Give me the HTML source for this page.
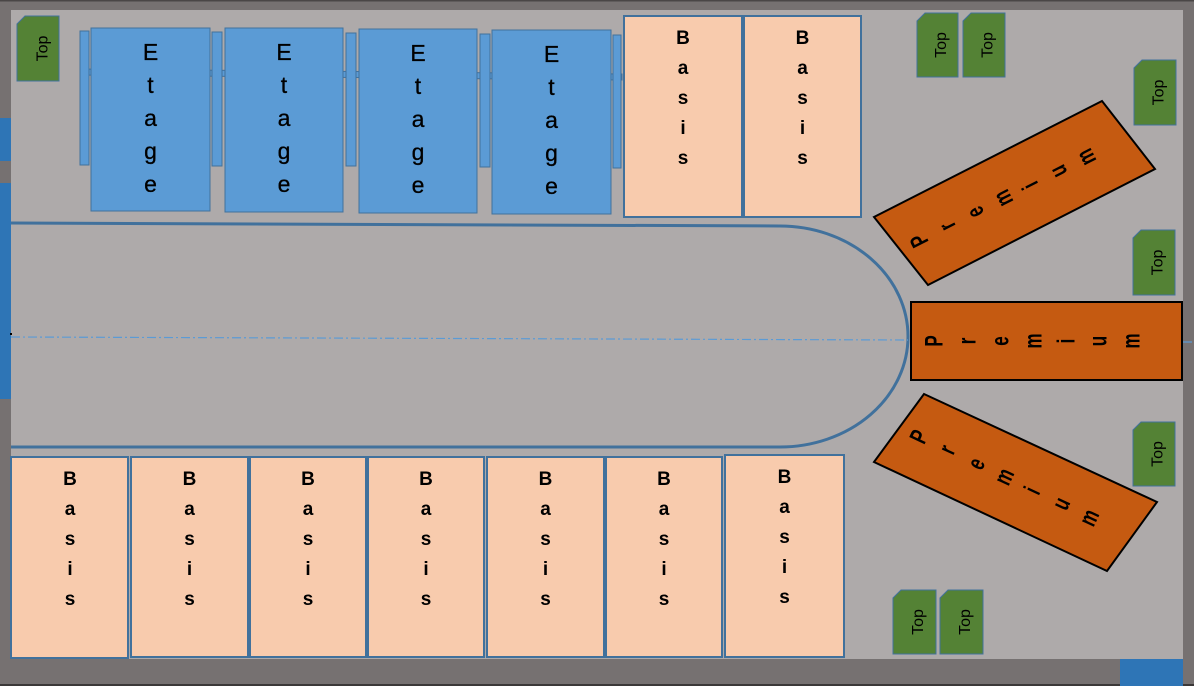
<!DOCTYPE html>
<html><head><meta charset="utf-8"><style>
html,body{margin:0;padding:0;background:#767171;}
svg{display:block;}
text{font-family:"Liberation Sans",sans-serif;}
</style></head><body>
<svg width="1194" height="686" viewBox="0 0 1194 686" xmlns="http://www.w3.org/2000/svg">
<rect x="0" y="0" width="1194" height="686" fill="#767171"/>
<rect x="0" y="0" width="1194" height="1.5" fill="#4a4646"/>
<rect x="0" y="684" width="1194" height="2" fill="#3b3838"/>
<rect x="11" y="10" width="1172" height="649" fill="#aeaaaa"/>
<rect x="0" y="118" width="11" height="43" fill="#2e75b6"/>
<rect x="0" y="183" width="11" height="216" fill="#2e75b6"/>
<rect x="1120" y="659" width="63" height="27" fill="#2e75b6"/>

<!-- road -->
<path d="M11,223 L780,226 A128,110.5 0 0 1 780,447 L11,447" fill="none" stroke="#41719c" stroke-width="3"/>
<line x1="11" y1="337" x2="908" y2="340" stroke="#5b9bd5" stroke-width="1.2" stroke-dasharray="9 3 2 3"/>
<line x1="1183" y1="342" x2="1194" y2="342" stroke="#5b9bd5" stroke-width="1.2" stroke-dasharray="9 3 2 3"/>
<rect x="10" y="333" width="2" height="2" fill="#000"/>

<!-- etage back bar -->
<polygon points="80,69 622,74 622,80 80,75" fill="#5b9bd5" stroke="#41719c" stroke-width="1"/>
<g fill="#5b9bd5" stroke="#41719c" stroke-width="1">
<rect x="80" y="31" width="9" height="134"/>
<rect x="212" y="32" width="10" height="134"/>
<rect x="346" y="33" width="10" height="133"/>
<rect x="480" y="34" width="10" height="133"/>
<rect x="613" y="35" width="8" height="133"/>
<rect x="91" y="28" width="119" height="183"/>
<rect x="225" y="28" width="118" height="184"/>
<rect x="359" y="29" width="118" height="184"/>
<rect x="492" y="30" width="119" height="184"/>
</g>
<g font-size="23" text-anchor="middle" fill="#000" stroke="#000" stroke-width="0.3">
<text x="150.5"><tspan x="150.5" y="60">E</tspan><tspan x="150.5" y="93">t</tspan><tspan x="150.5" y="126">a</tspan><tspan x="150.5" y="159">g</tspan><tspan x="150.5" y="192">e</tspan></text>
<text x="284"><tspan x="284" y="60">E</tspan><tspan x="284" y="93">t</tspan><tspan x="284" y="126">a</tspan><tspan x="284" y="159">g</tspan><tspan x="284" y="192">e</tspan></text>
<text x="418"><tspan x="418" y="61">E</tspan><tspan x="418" y="94">t</tspan><tspan x="418" y="127">a</tspan><tspan x="418" y="160">g</tspan><tspan x="418" y="193">e</tspan></text>
<text x="551.5"><tspan x="551.5" y="62">E</tspan><tspan x="551.5" y="95">t</tspan><tspan x="551.5" y="128">a</tspan><tspan x="551.5" y="161">g</tspan><tspan x="551.5" y="194">e</tspan></text>
</g>

<!-- basis boxes -->
<g fill="#f8cbad" stroke="#41719c" stroke-width="2">
<rect x="624" y="16" width="118" height="201"/>
<rect x="744" y="16" width="117" height="201"/>
<rect x="11" y="457" width="117" height="201"/>
<rect x="131" y="457" width="117" height="200"/>
<rect x="250" y="457" width="116" height="200"/>
<rect x="368" y="457" width="116" height="200"/>
<rect x="487" y="457" width="117" height="200"/>
<rect x="606" y="457" width="116" height="200"/>
<rect x="725" y="455" width="119" height="202"/>
</g>
<g font-size="19" font-weight="bold" text-anchor="middle" fill="#000">
<text><tspan x="683" y="44">B</tspan><tspan x="683" y="74">a</tspan><tspan x="683" y="104">s</tspan><tspan x="683" y="134">i</tspan><tspan x="683" y="164">s</tspan></text>
<text><tspan x="802.5" y="44">B</tspan><tspan x="802.5" y="74">a</tspan><tspan x="802.5" y="104">s</tspan><tspan x="802.5" y="134">i</tspan><tspan x="802.5" y="164">s</tspan></text>
<text><tspan x="70" y="485">B</tspan><tspan x="70" y="515">a</tspan><tspan x="70" y="545">s</tspan><tspan x="70" y="575">i</tspan><tspan x="70" y="605">s</tspan></text>
<text><tspan x="189.5" y="485">B</tspan><tspan x="189.5" y="515">a</tspan><tspan x="189.5" y="545">s</tspan><tspan x="189.5" y="575">i</tspan><tspan x="189.5" y="605">s</tspan></text>
<text><tspan x="308" y="485">B</tspan><tspan x="308" y="515">a</tspan><tspan x="308" y="545">s</tspan><tspan x="308" y="575">i</tspan><tspan x="308" y="605">s</tspan></text>
<text><tspan x="426" y="485">B</tspan><tspan x="426" y="515">a</tspan><tspan x="426" y="545">s</tspan><tspan x="426" y="575">i</tspan><tspan x="426" y="605">s</tspan></text>
<text><tspan x="545.5" y="485">B</tspan><tspan x="545.5" y="515">a</tspan><tspan x="545.5" y="545">s</tspan><tspan x="545.5" y="575">i</tspan><tspan x="545.5" y="605">s</tspan></text>
<text><tspan x="664" y="485">B</tspan><tspan x="664" y="515">a</tspan><tspan x="664" y="545">s</tspan><tspan x="664" y="575">i</tspan><tspan x="664" y="605">s</tspan></text>
<text><tspan x="784.5" y="483">B</tspan><tspan x="784.5" y="513">a</tspan><tspan x="784.5" y="543">s</tspan><tspan x="784.5" y="573">i</tspan><tspan x="784.5" y="603">s</tspan></text>
</g>

<!-- premium -->
<g fill="#c55a11" stroke="#000" stroke-width="2">
<rect x="911" y="302" width="271" height="78"/>
<polygon points="874,217 1102,101 1155,169 928,285"/>
<polygon points="924,394 1157,502 1107,571 874,462"/>
</g>
<g font-size="17" font-weight="bold" fill="#000" text-anchor="middle">
<text transform="translate(935,341) rotate(-90) scale(1,1.45)" dy="5">P</text>
<text transform="translate(968,341) rotate(-90) scale(1,1.45)" dy="5">r</text>
<text transform="translate(1001,341) rotate(-90) scale(1,1.45)" dy="5">e</text>
<text transform="translate(1034,341) rotate(-90) scale(1,1.45)" dy="5">m</text>
<text transform="translate(1067,341) rotate(-90) scale(1,1.45)" dy="5">i</text>
<text transform="translate(1099,341) rotate(-90) scale(1,1.45)" dy="5">u</text>
<text transform="translate(1132,341) rotate(-90) scale(1,1.45)" dy="5">m</text>
<text transform="translate(920,240) rotate(-117) scale(1,1.45)" dy="5">P</text>
<text transform="translate(948,226) rotate(-117) scale(1,1.45)" dy="5">r</text>
<text transform="translate(976,212) rotate(-117) scale(1,1.45)" dy="5">e</text>
<text transform="translate(1004,198) rotate(-117) scale(1,1.45)" dy="5">m</text>
<text transform="translate(1031,185) rotate(-117) scale(1,1.45)" dy="5">i</text>
<text transform="translate(1059,171) rotate(-117) scale(1,1.45)" dy="5">u</text>
<text transform="translate(1087,157) rotate(-117) scale(1,1.45)" dy="5">m</text>
<text transform="translate(920,437) rotate(-65) scale(1,1.45)" dy="5">P</text>
<text transform="translate(948,450) rotate(-65) scale(1,1.45)" dy="5">r</text>
<text transform="translate(977,464) rotate(-65) scale(1,1.45)" dy="5">e</text>
<text transform="translate(1005,477) rotate(-65) scale(1,1.45)" dy="5">m</text>
<text transform="translate(1033,491) rotate(-65) scale(1,1.45)" dy="5">i</text>
<text transform="translate(1062,504) rotate(-65) scale(1,1.45)" dy="5">u</text>
<text transform="translate(1090,518) rotate(-65) scale(1,1.45)" dy="5">m</text>
</g>

<!-- Top boxes -->
<g fill="#548235" stroke="#41719c" stroke-width="1">
<polygon points="25,16 59,16 59,81 17,81 17,24"/>
<polygon points="925,13 958,13 958,77 917,77 917,21"/>
<polygon points="971,13 1005,13 1005,77 963,77 963,21"/>
<polygon points="1142,60 1176,60 1176,125 1134,125 1134,68"/>
<polygon points="1141,230 1175,230 1175,295 1133,295 1133,238"/>
<polygon points="1141,422 1175,422 1175,486 1133,486 1133,430"/>
<polygon points="901,590 936,590 936,654 893,654 893,598"/>
<polygon points="948,590 983,590 983,654 940,654 940,598"/>
</g>
<g font-size="16" fill="#000" text-anchor="middle">
<text transform="translate(42,48.5) rotate(-90)" dy="5.5">Top</text>
<text transform="translate(940.5,45) rotate(-90)" dy="5.5">Top</text>
<text transform="translate(987,45) rotate(-90)" dy="5.5">Top</text>
<text transform="translate(1158,92.5) rotate(-90)" dy="5.5">Top</text>
<text transform="translate(1157,262.5) rotate(-90)" dy="5.5">Top</text>
<text transform="translate(1157,454) rotate(-90)" dy="5.5">Top</text>
<text transform="translate(917.5,622) rotate(-90)" dy="5.5">Top</text>
<text transform="translate(964.5,622) rotate(-90)" dy="5.5">Top</text>
</g>
</svg>
</body></html>
